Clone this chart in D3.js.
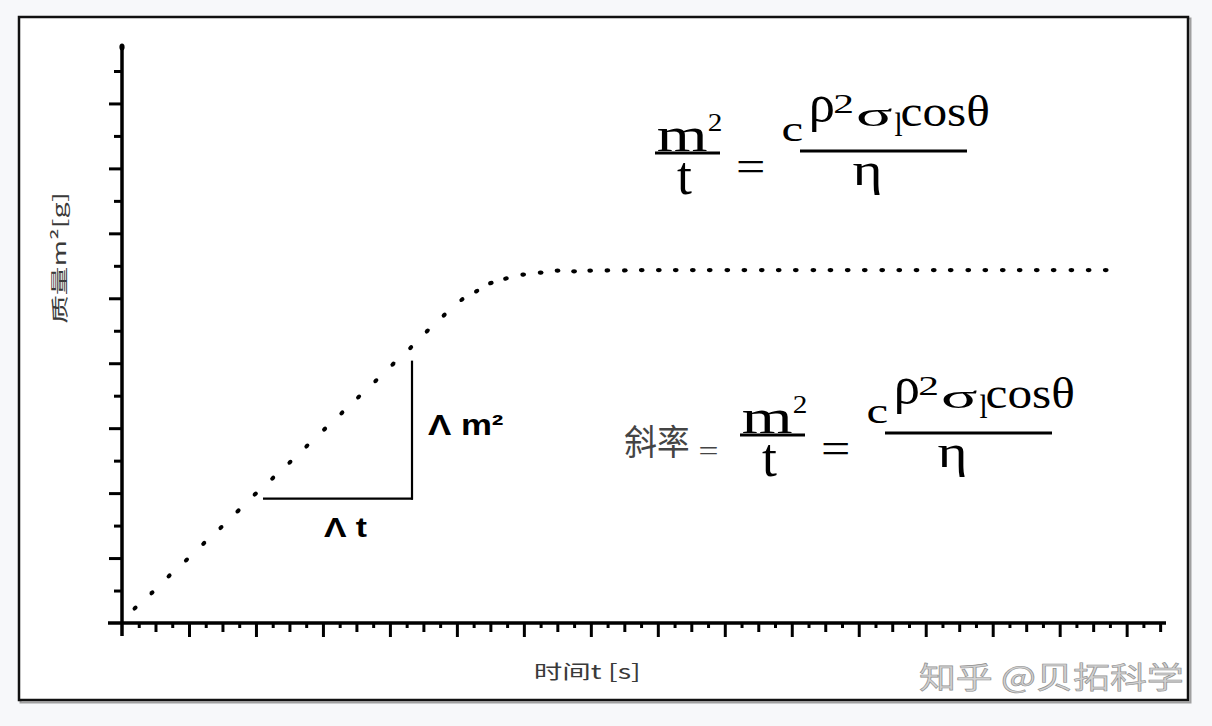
<!DOCTYPE html>
<html>
<head>
<meta charset="utf-8">
<script src="https://cdn.jsdelivr.net/npm/d3@7/dist/d3.min.js"></script>
<style>
  html, body { margin: 0; padding: 0; background: #f7f8fa; }
  svg { display: block; }
</style>
</head>
<body>
<script>
// ---------------- data ----------------
// time in s (1 axis tick = 1 s), mass m^2 in g (1 axis tick = 1 g)
const timeS = [0.78, 1.79, 2.81, 3.85, 4.88, 5.91, 6.93, 7.96, 9.00, 10.03,
  11.04, 12.10, 13.13, 14.13, 15.16, 16.18, 17.24, 18.23, 19.24, 20.30,
  21.18, 22.03, 22.93, 23.96, 25.00, 26.01, 27.00, 27.96, 28.99, 30.03,
  31.04, 32.06, 33.07, 34.09, 35.10, 36.15, 37.17, 38.21, 39.22, 40.24,
  41.29, 42.31, 43.34, 44.36, 45.40, 46.42, 47.45, 48.48, 49.49, 50.54,
  51.56, 52.60, 53.61, 54.63, 55.64, 56.70, 57.73, 58.75];
const massG = [0.46, 0.93, 1.45, 1.94, 2.45, 2.94, 3.45, 3.97, 4.46, 4.95,
  5.45, 5.97, 6.47, 6.96, 7.46, 7.97, 8.48, 8.99, 9.48, 9.96,
  10.22, 10.47, 10.61, 10.73, 10.79, 10.85, 10.83, 10.85, 10.86, 10.86,
  10.87, 10.87, 10.87, 10.87, 10.87, 10.87, 10.87, 10.87, 10.87, 10.87,
  10.87, 10.87, 10.87, 10.87, 10.87, 10.87, 10.87, 10.87, 10.87, 10.87,
  10.87, 10.87, 10.87, 10.87, 10.87, 10.87, 10.87, 10.87];
const xTicks = d3.range(1, 63);
const yTicks = d3.range(1, 18);
// slope triangle (data units)
const triT = [8.42, 17.32];
const triM = [3.83, 8.08];

const xLabel = "时间t [s]";
const yLabel = "质量m²[g]";
const dtLabel = "Λ t";
const dmLabel = "Λ m²";
const slopeLabel = "斜率";
const watermark = "知乎 @贝拓科学";

// ---------------- layout ----------------
const W = 1212, H = 726;
const svg = d3.select("body").append("svg").attr("width", W).attr("height", H);

const x = d3.scaleLinear().domain([0, 62.35]).range([122, 1166]);
const y = d3.scaleLinear().domain([0, 17.8]).range([623, 45]);

// frame
svg.append("rect").attr("x", 20.5).attr("y", 18.5).attr("width", 1170).attr("height", 684)
  .attr("fill", "none").attr("stroke", "#a0a0a0").attr("stroke-width", 2);
svg.append("rect").attr("x", 19).attr("y", 17).attr("width", 1169).attr("height", 683)
  .attr("fill", "#ffffff").attr("stroke", "#111").attr("stroke-width", 2.5);

// text fitting helper (fits the ink box of a string into a target box)
const ctx = document.createElement("canvas").getContext("2d");
function fitText(parent, str, family, box, opt = {}) {
  const weight = opt.weight || "normal";
  ctx.font = `${weight} 100px ${family}`;
  const m = ctx.measureText(str);
  const l = m.actualBoundingBoxLeft, r = m.actualBoundingBoxRight;
  const a = m.actualBoundingBoxAscent, d = m.actualBoundingBoxDescent;
  const sx = (box[2] - box[0]) / (l + r);
  const sy = (box[3] - box[1]) / (a + d);
  return parent.append("text")
    .attr("transform", `translate(${box[0] + l * sx},${box[1] + a * sy}) scale(${sx},${sy})`)
    .attr("font-family", family).attr("font-weight", weight).attr("font-size", 100)
    .attr("fill", opt.fill || "#000")
    .text(str);
}

// ---------------- axes ----------------
const axG = svg.append("g");
function ticks(gen, values, size, tr) {
  const g = axG.append("g").attr("transform", tr)
    .call(gen.tickValues(values).tickSize(size).tickFormat(""));
  g.select(".domain").remove();
  g.selectAll("line").attr("stroke", "#000").attr("stroke-width", 3);
}
ticks(d3.axisBottom(x), xTicks.filter(v => v % 4 === 0), 14, `translate(0,${y(0)})`);
ticks(d3.axisBottom(x), xTicks.filter(v => v % 4 === 2), 9, `translate(0,${y(0)})`);
ticks(d3.axisBottom(x), xTicks.filter(v => v % 2 === 1), 5, `translate(0,${y(0)})`);
ticks(d3.axisLeft(y), yTicks.filter(v => v % 2 === 0), 13, `translate(${x(0)},0)`);
ticks(d3.axisLeft(y), yTicks.filter(v => v % 2 === 1), 8, `translate(${x(0)},0)`);

axG.append("line").attr("x1", x(0) - 14).attr("x2", x.range()[1]).attr("y1", y(0)).attr("y2", y(0))
  .attr("stroke", "#000").attr("stroke-width", 3.5);
axG.append("line").attr("x1", x(0)).attr("x2", x(0)).attr("y1", y.range()[1]).attr("y2", y(0) + 13)
  .attr("stroke", "#000").attr("stroke-width", 3.5);
axG.append("ellipse").attr("cx", x(0)).attr("cy", y.range()[1] + 2).attr("rx", 2.6).attr("ry", 3.5).attr("fill", "#000");

// ---------------- dots ----------------
const pts = timeS.map((t, i) => [x(t), y(massG[i])]);
svg.append("g").selectAll("ellipse").data(pts).join("ellipse")
  .attr("transform", (p, i) => {
    const a = pts[Math.max(0, i - 1)], b = pts[Math.min(pts.length - 1, i + 1)];
    const ang = Math.atan2(b[1] - a[1], b[0] - a[0]) * 180 / Math.PI;
    return `translate(${p[0]},${p[1]}) rotate(${ang})`;
  })
  .attr("rx", 2.8).attr("ry", 2.1).attr("fill", "#000");

// ---------------- slope triangle ----------------
svg.append("line").attr("x1", x(triT[0])).attr("x2", x(triT[1]) + 1).attr("y1", y(triM[0])).attr("y2", y(triM[0]))
  .attr("stroke", "#000").attr("stroke-width", 2.2);
svg.append("line").attr("x1", x(triT[1])).attr("x2", x(triT[1])).attr("y1", y(triM[1])).attr("y2", y(triM[0]) + 1)
  .attr("stroke", "#000").attr("stroke-width", 2.2);

const ann = svg.append("g");
fitText(ann, dtLabel, "'Liberation Sans'", [324, 518, 367, 537], { weight: "bold" });
fitText(ann, dmLabel, "'Liberation Sans'", [428, 415, 503, 435], { weight: "bold" });

// ---------------- axis titles ----------------
fitText(svg, xLabel, "'Noto Sans CJK SC'", [536, 662, 638, 682], { fill: "#3a3a3a" });
const yl = svg.append("g").attr("transform", "rotate(-90)");
fitText(yl, yLabel, "'Noto Sans CJK SC'", [-323, 50, -195, 70], { fill: "#3a3a3a" });

// ---------------- formulas ----------------
const serif = "'Liberation Serif'";
// one equation layout (pixel boxes), drawn twice with an offset
const eqPieces = [
  { s: "m", b: [743, 410, 792, 433] },
  { s: "2", b: [794, 396, 806, 413] },
  { s: "t", b: [762, 446, 777, 477] },
  { s: "=", b: [823, 443, 848, 454] },
  { s: "c", b: [868, 406, 887, 423] },
  { s: "ρ", b: [897, 378, 918, 414] },
  { s: "2", b: [920, 377, 937, 395] },
  { s: "σ", b: [943, 390, 977, 408] },
  { s: "l", b: [980, 395, 987, 418] },
  { s: "cosθ", b: [987, 377, 1073, 408] },
  { s: "η", b: [938, 445, 965, 477] }
];
const eqBars = [[740, 805, 435], [885, 1052, 433]];
function formula(dx, dy) {
  const g = svg.append("g").attr("transform", `translate(${dx},${dy})`);
  eqPieces.forEach(p => fitText(g, p.s, serif, p.b));
  eqBars.forEach(b => g.append("line").attr("x1", b[0]).attr("x2", b[1]).attr("y1", b[2]).attr("y2", b[2])
    .attr("stroke", "#000").attr("stroke-width", 2.8));
  return g;
}
formula(-85, -282);
const g2 = formula(0, 0);
fitText(g2, slopeLabel, "'Noto Sans CJK SC'", [625, 425, 688, 458], { fill: "#444" });
fitText(g2, "=", serif, [700, 447, 717, 454], { fill: "#444" });

// ---------------- watermark ----------------
fitText(svg, watermark, "'Noto Sans CJK SC'", [920, 662, 1182, 693], { fill: "#d2d2d2" })
  .attr("stroke", "#8f8f8f").attr("stroke-width", 0.7).attr("vector-effect", "non-scaling-stroke");
</script>
</body>
</html>
